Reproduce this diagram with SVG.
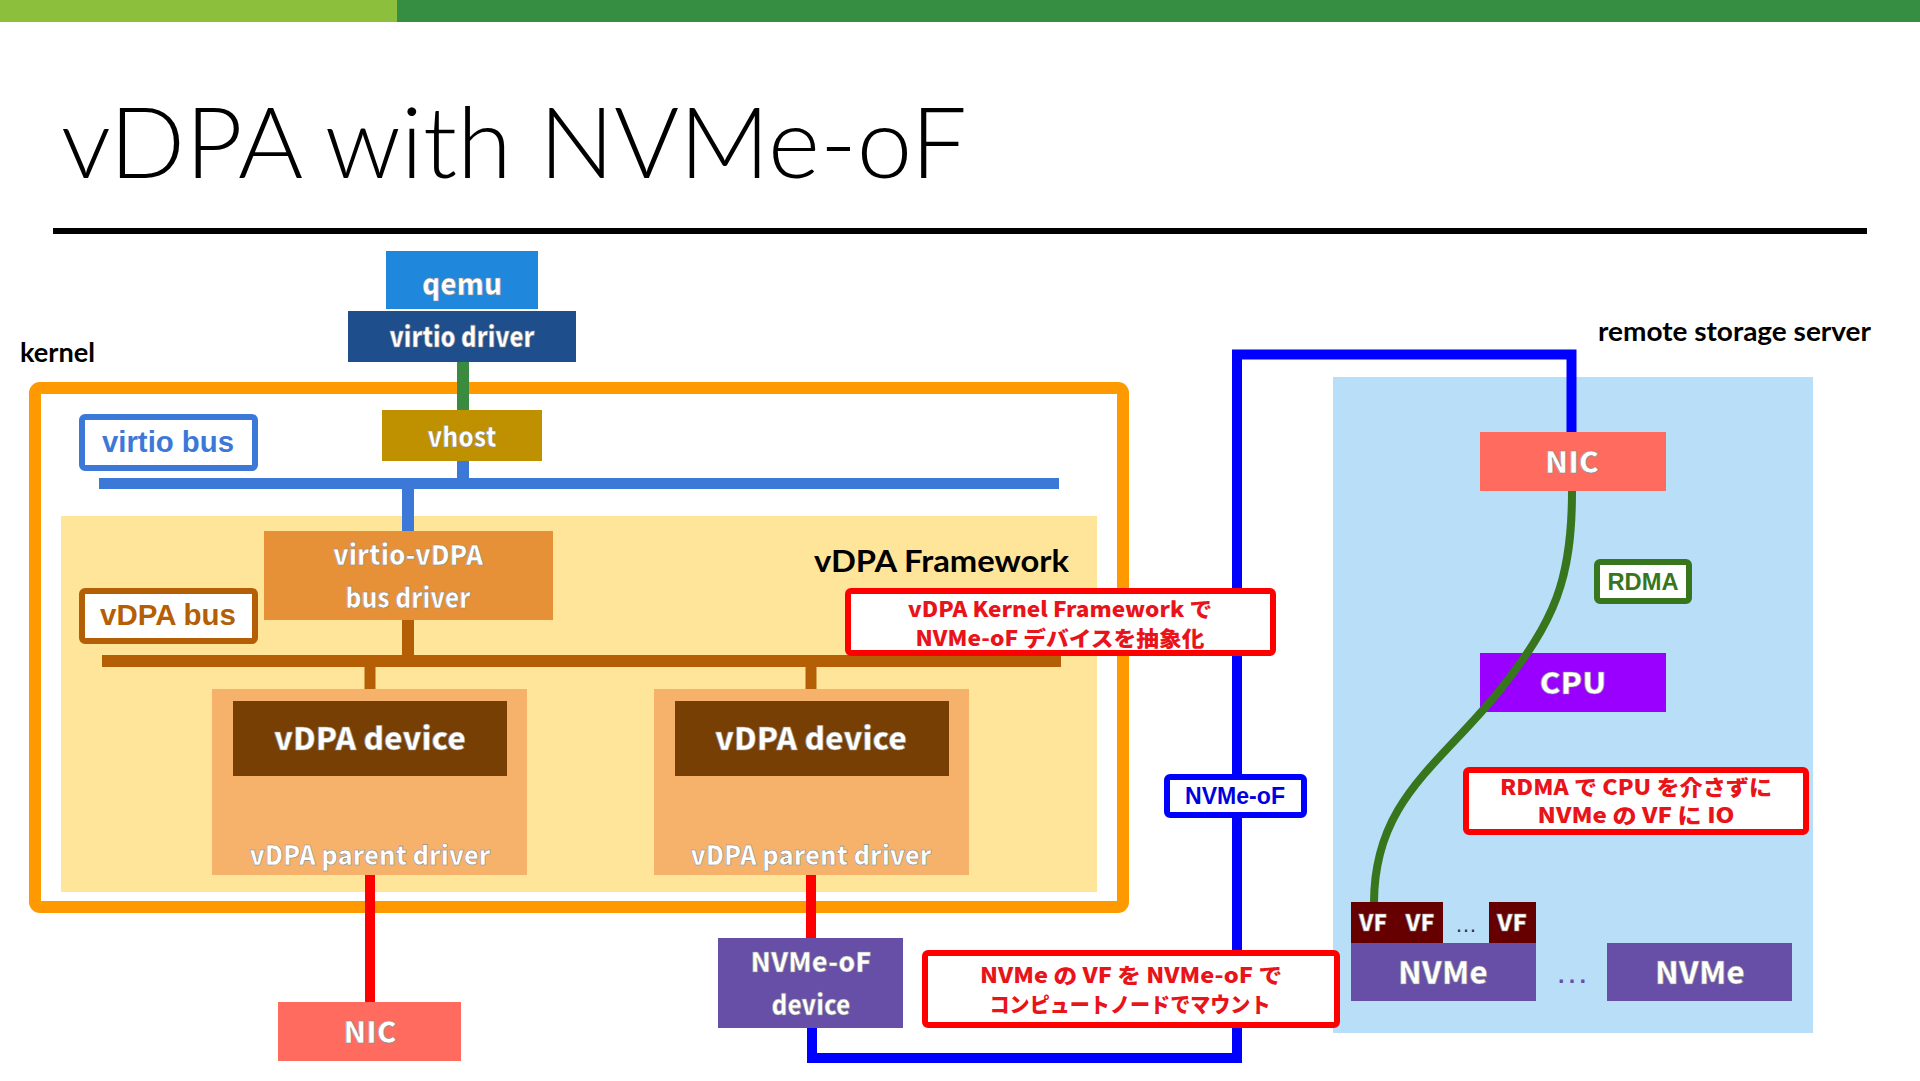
<svg xmlns="http://www.w3.org/2000/svg" width="1920" height="1081" viewBox="0 0 1920 1081">
<style>
.lbl{font-family:"Noto Sans CJK JP","Noto Sans",sans-serif;font-weight:900;fill:#ffffff;stroke:#8a8a8a;stroke-width:0.6;text-anchor:middle}
.hd{font-family:Lato,"Open Sans",sans-serif;font-weight:700;fill:#000}
.tag{font-family:"Liberation Sans",Arial,sans-serif;font-weight:700}
.call{font-family:"Noto Sans CJK JP","Noto Sans",sans-serif;font-weight:900;fill:#E8141A;font-size:21px;text-anchor:middle}
.callbox{fill:#fff;stroke:#FF0000;stroke-width:6}
</style>
<rect x="0" y="0" width="1920" height="1081" fill="#ffffff"/>
<rect x="0" y="0" width="397" height="22" fill="#8CC03C"/>
<rect x="397" y="0" width="1523" height="22" fill="#358E41"/>
<text x="61" y="178" font-family="Lato,'Open Sans',sans-serif" font-weight="300" font-size="98" fill="#000" textLength="906" lengthAdjust="spacingAndGlyphs">vDPA with NVMe-oF</text>
<rect x="53" y="228" width="1814" height="6" fill="#000"/>

<g id="kernel">
<rect x="35" y="388" width="1088" height="519" rx="5" fill="none" stroke="#FF9900" stroke-width="12"/>
<text class="hd" x="20" y="362" font-size="26" textLength="75" lengthAdjust="spacingAndGlyphs">kernel</text>
</g>
<g id="vdpa-framework">
<rect x="61" y="516" width="1036" height="376" fill="#FFE599"/>
<text class="hd" x="814" y="572" font-size="30" textLength="255" lengthAdjust="spacingAndGlyphs">vDPA Framework</text>
</g>
<g id="remote-storage-server">
<rect x="1333" y="377" width="480" height="656" fill="#B9DEF8"/>
<text class="hd" x="1598" y="341" font-size="27" textLength="273" lengthAdjust="spacingAndGlyphs">remote storage server</text>
</g>

<g id="connectors" fill="none">
<line x1="463" y1="362" x2="463" y2="410" stroke="#3A8A3F" stroke-width="12"/>
<line x1="463" y1="461" x2="463" y2="479" stroke="#3C78D8" stroke-width="12"/>
<line x1="99" y1="483.5" x2="1059" y2="483.5" stroke="#3C78D8" stroke-width="11"/>
<line x1="408" y1="489" x2="408" y2="532" stroke="#3C78D8" stroke-width="12"/>
<line x1="408" y1="620" x2="408" y2="656" stroke="#B45F06" stroke-width="12"/>
<line x1="102" y1="661" x2="1061" y2="661" stroke="#B45F06" stroke-width="12"/>
<line x1="370" y1="666" x2="370" y2="702" stroke="#B45F06" stroke-width="11"/>
<line x1="811" y1="666" x2="811" y2="702" stroke="#B45F06" stroke-width="11"/>
<line x1="370" y1="875" x2="370" y2="1002" stroke="#FF0000" stroke-width="10"/>
<line x1="811" y1="875" x2="811" y2="938" stroke="#FF0000" stroke-width="10"/>
<path d="M812,1028 V1058 H1237 V354.5 H1571.5 V432" stroke="#0000FF" stroke-width="10"/>
</g>

<g id="qemu"><rect x="386" y="251" width="152" height="58" fill="#1F88DD"/><text class="lbl" x="462" y="295" font-size="30" textLength="80" lengthAdjust="spacingAndGlyphs">qemu</text></g>
<g id="virtio-driver"><rect x="348" y="311" width="228" height="51" fill="#1F4E8C"/><text class="lbl" x="462" y="347" font-size="27" textLength="145" lengthAdjust="spacingAndGlyphs">virtio driver</text></g>
<g id="vhost"><rect x="382" y="410" width="160" height="51" fill="#BF9000"/><text class="lbl" x="462" y="447" font-size="27" textLength="69" lengthAdjust="spacingAndGlyphs">vhost</text></g>
<g id="virtio-bus"><rect x="82" y="417" width="173" height="51" rx="3" fill="#fff" stroke="#3C78D8" stroke-width="6"/><text class="tag" x="102" y="452" font-size="30" fill="#3C78D8" textLength="132" lengthAdjust="spacingAndGlyphs">virtio bus</text></g>
<g id="virtio-vdpa-bus-driver"><rect x="264" y="531" width="289" height="89" fill="#E69138"/><text class="lbl" x="408" y="565" font-size="27" textLength="150" lengthAdjust="spacingAndGlyphs">virtio-vDPA</text><text class="lbl" x="408" y="608" font-size="27" textLength="125" lengthAdjust="spacingAndGlyphs">bus driver</text></g>
<g id="vdpa-bus"><rect x="82" y="591" width="173" height="50" rx="3" fill="#fff" stroke="#B45F06" stroke-width="6"/><text class="tag" x="100" y="625" font-size="29" fill="#B45F06" textLength="136" lengthAdjust="spacingAndGlyphs">vDPA bus</text></g>

<g id="vdpa-parent-driver-1"><rect x="212" y="689" width="315" height="186" fill="#F6B26B"/><text class="lbl" x="370" y="865" font-size="26" textLength="241" lengthAdjust="spacingAndGlyphs">vDPA parent driver</text></g>
<g id="vdpa-device-1"><rect x="233" y="701" width="274" height="75" fill="#783F04"/><text class="lbl" x="370" y="750" font-size="31" textLength="192" lengthAdjust="spacingAndGlyphs">vDPA device</text></g>
<g id="vdpa-parent-driver-2"><rect x="654" y="689" width="315" height="186" fill="#F6B26B"/><text class="lbl" x="811" y="865" font-size="26" textLength="241" lengthAdjust="spacingAndGlyphs">vDPA parent driver</text></g>
<g id="vdpa-device-2"><rect x="675" y="701" width="274" height="75" fill="#783F04"/><text class="lbl" x="811" y="750" font-size="31" textLength="192" lengthAdjust="spacingAndGlyphs">vDPA device</text></g>

<g id="nic-local"><rect x="278" y="1002" width="183" height="59" fill="#FF6B5E"/><text class="lbl" x="370" y="1043" font-size="30" textLength="53" lengthAdjust="spacingAndGlyphs">NIC</text></g>
<g id="nvmeof-device"><rect x="718" y="938" width="185" height="90" fill="#674EA7"/><text class="lbl" x="811" y="972" font-size="27" textLength="121" lengthAdjust="spacingAndGlyphs">NVMe-oF</text><text class="lbl" x="811" y="1015" font-size="27" textLength="79" lengthAdjust="spacingAndGlyphs">device</text></g>

<g id="callout-kernel-framework"><rect class="callbox" x="848" y="591" width="425" height="62" rx="3"/><text class="call" x="1060" y="617" textLength="304" lengthAdjust="spacingAndGlyphs">vDPA Kernel Framework で</text><text class="call" x="1060" y="646" textLength="289" lengthAdjust="spacingAndGlyphs">NVMe-oF デバイスを抽象化</text></g>
<g id="nvmeof-label"><rect x="1167" y="777" width="137" height="38" rx="3" fill="#fff" stroke="#0000FF" stroke-width="6"/><text class="tag" x="1235" y="804" font-size="23" fill="#0000DD" text-anchor="middle" textLength="100" lengthAdjust="spacingAndGlyphs">NVMe-oF</text></g>
<g id="callout-mount"><rect class="callbox" x="925" y="953" width="412" height="72" rx="3"/><text class="call" x="1131" y="983" textLength="302" lengthAdjust="spacingAndGlyphs">NVMe の VF を NVMe-oF で</text><text class="call" x="1130" y="1012" textLength="281" lengthAdjust="spacingAndGlyphs">コンピュートノードでマウント</text></g>

<g id="nic-remote"><rect x="1480" y="432" width="186" height="59" fill="#FF6B5E"/><text class="lbl" x="1572" y="473" font-size="30" textLength="54" lengthAdjust="spacingAndGlyphs">NIC</text></g>
<g id="rdma-label"><rect x="1597" y="562" width="92" height="39" rx="3" fill="#fff" stroke="#38761D" stroke-width="6"/><text class="tag" x="1643" y="590" font-size="23" fill="#38761D" text-anchor="middle" textLength="71" lengthAdjust="spacingAndGlyphs">RDMA</text></g>
<g id="cpu"><rect x="1480" y="653" width="186" height="59" fill="#9900FF"/><text class="lbl" x="1573" y="694" font-size="30" textLength="67" lengthAdjust="spacingAndGlyphs">CPU</text></g>
<g id="connectors-rdma" fill="none">
<path d="M1572,491 C1572,580 1555,620 1500,690 C1440,765 1374,800 1374,903" stroke="#38761D" stroke-width="8"/>
</g>
<g id="callout-rdma"><rect class="callbox" x="1466" y="770" width="340" height="62" rx="3"/><text class="call" x="1636" y="795" textLength="272" lengthAdjust="spacingAndGlyphs">RDMA で CPU を介さずに</text><text class="call" x="1636" y="823" textLength="197" lengthAdjust="spacingAndGlyphs">NVMe の VF に IO</text></g>

<g id="vf-group">
<rect x="1351" y="902" width="92" height="41" fill="#660000"/>
<rect x="1489" y="902" width="47" height="41" fill="#660000"/>
<text class="lbl" x="1373" y="931" font-size="23" textLength="28" lengthAdjust="spacingAndGlyphs">VF</text>
<text class="lbl" x="1420" y="931" font-size="23" textLength="29" lengthAdjust="spacingAndGlyphs">VF</text>
<text class="lbl" x="1512" y="931" font-size="23" textLength="30" lengthAdjust="spacingAndGlyphs">VF</text>
<text x="1466" y="932" font-family="'Liberation Sans',sans-serif" font-size="22" fill="#333" text-anchor="middle">…</text>
</g>
<g id="nvme-1"><rect x="1351" y="943" width="185" height="58" fill="#674EA7"/><text class="lbl" x="1443" y="984" font-size="31" textLength="90" lengthAdjust="spacingAndGlyphs">NVMe</text></g>
<text x="1572" y="983" font-family="'Liberation Sans',sans-serif" font-size="34" fill="#674EA7" text-anchor="middle">…</text>
<g id="nvme-2"><rect x="1607" y="943" width="185" height="58" fill="#674EA7"/><text class="lbl" x="1700" y="984" font-size="31" textLength="90" lengthAdjust="spacingAndGlyphs">NVMe</text></g>
</svg>
